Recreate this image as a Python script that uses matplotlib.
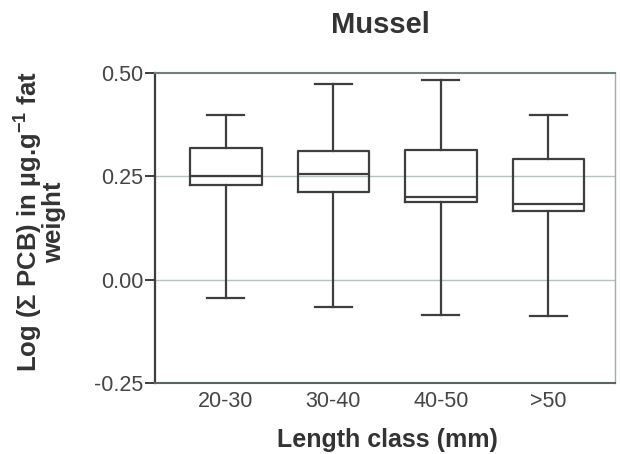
import matplotlib
matplotlib.use("Agg")
import matplotlib.pyplot as plt

plt.rcParams['font.family'] = ['Liberation Sans', 'DejaVu Sans']
plt.rcParams['mathtext.fontset'] = 'custom'
plt.rcParams['mathtext.rm'] = 'Liberation Sans'
plt.rcParams['mathtext.bf'] = 'Liberation Sans:bold'

categories = ['20-30', '30-40', '40-50', '>50']
whisker_low = [-0.045, -0.067, -0.085, -0.089]
q1 = [0.228, 0.212, 0.187, 0.167]
median = [0.250, 0.255, 0.201, 0.183]
q3 = [0.318, 0.312, 0.314, 0.292]
whisker_high = [0.399, 0.473, 0.483, 0.399]
y_ticks = [-0.25, 0.00, 0.25, 0.50]

line_col = '#3e3e3e'
grid_col = '#b8c4bc'

W, H = 620, 454
fig = plt.figure(figsize=(W/100, H/100), dpi=100)
ax = fig.add_axes([155/W, 1-383/H, 460/W, 310/H])

stats = []
for i, c in enumerate(categories):
    stats.append(dict(label=c, whislo=whisker_low[i], q1=q1[i], med=median[i],
                      q3=q3[i], whishi=whisker_high[i], fliers=[]))

lp = dict(color=line_col, linewidth=1.6)
ax.bxp(stats, positions=range(len(categories)), widths=0.665, capwidths=0.345,
       showfliers=False, boxprops=lp, whiskerprops=lp, capprops=lp,
       medianprops=lp, manage_ticks=False)

for v in [0.0, 0.25]:
    ax.axhline(v, color=grid_col, linewidth=1.0, zorder=0)

ax.set_xlim(-0.66, 3.62)
ax.set_ylim(-0.25, 0.50)
ax.set_xticks(range(len(categories)))
ax.set_xticklabels(categories)
ax.set_yticks(y_ticks)
ax.set_yticklabels([f'{v:.2f}' for v in y_ticks])
ax.tick_params(axis='y', direction='out', length=7.5, width=1.4, color=line_col,
               labelsize=15.5, labelcolor='#454545', pad=0.8)
ax.tick_params(axis='x', length=0, labelsize=15.5, labelcolor='#454545', pad=6)
ax.spines['left'].set_color(line_col)
ax.spines['left'].set_linewidth(1.6)
ax.spines['top'].set_color('#6f8276')
ax.spines['top'].set_linewidth(1.5)
ax.spines['bottom'].set_color('#5c6660')
ax.spines['bottom'].set_linewidth(1.5)
ax.spines['right'].set_color('#a3aea7')
ax.spines['right'].set_linewidth(1.0)

fig.text(380/W, 1-33/H, 'Mussel', fontsize=21, fontweight='bold', color='#333333',
         ha='center', va='baseline')
fig.text(387/W, 1-447/H, 'Length class (mm)', fontsize=18, fontweight='bold',
         color='#333333', ha='center', va='baseline')
ax.set_ylabel('Log (Σ PCB) in µg.g$^{\\mathbf{-1}}$ fat\nweight', fontsize=18.5,
              fontweight='bold', color='#333333', linespacing=0.9)
ax.yaxis.set_label_coords((66-155)/460, 0.52)

fig.savefig('out.png', dpi=100)
